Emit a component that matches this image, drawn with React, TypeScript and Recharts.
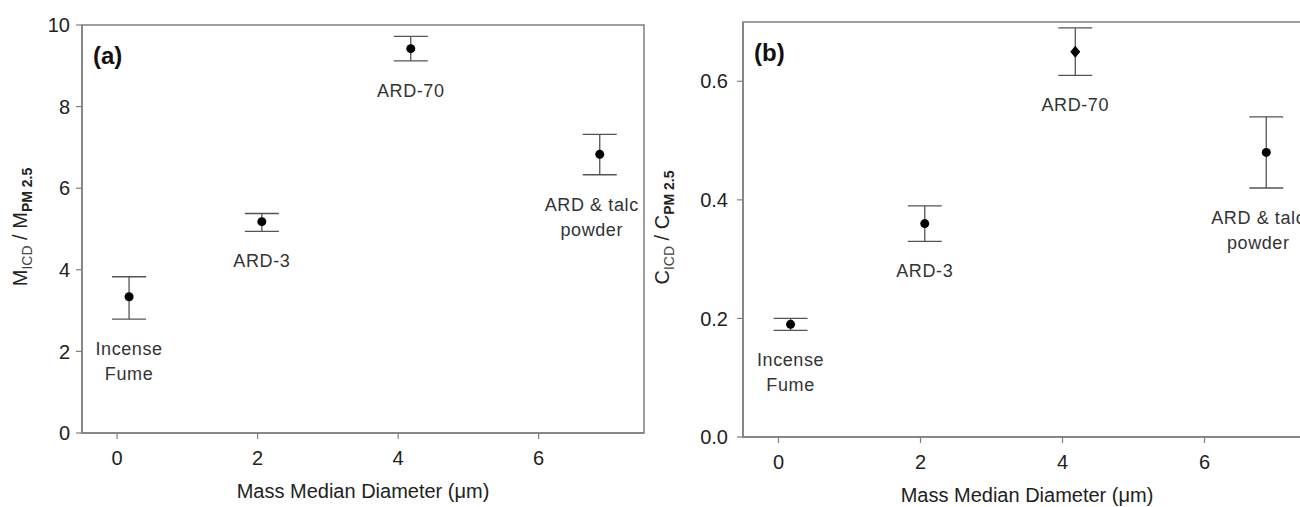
import { ScatterChart, Scatter, XAxis, YAxis, ErrorBar, ReferenceArea } from 'recharts';

const FONT = '"Liberation Sans", Arial, sans-serif';
const AXIS = '#7f7f7f';

// shared categories / x positions (mass median diameter, um)
const categories = ['Incense Fume', 'ARD-3', 'ARD-70', 'ARD & talc powder'];
const labelLines = [['Incense', 'Fume'], ['ARD-3'], ['ARD-70'], ['ARD & talc', 'powder']];
const diameters = [0.17, 2.06, 4.18, 6.87];

// panel (a): M_ICD / M_PM2.5
const massRatio = [3.34, 5.18, 9.42, 6.83];
const massErrLow = [0.55, 0.24, 0.3, 0.5];
const massErrHigh = [0.49, 0.2, 0.3, 0.49];

// panel (b): C_ICD / C_PM2.5
const countRatio = [0.19, 0.36, 0.65, 0.48];
const countErrLow = [0.01, 0.03, 0.04, 0.06];
const countErrHigh = [0.01, 0.03, 0.04, 0.06];

const xTicks = [0, 2, 4, 6];
const massTicks = [0, 2, 4, 6, 8, 10];
const countTicks = [0, 0.2, 0.4, 0.6];

const buildRows = (vals: number[], lo: number[], hi: number[]) =>
    categories.map((name, i) => ({ name, x: diameters[i], y: vals[i], err: [lo[i], hi[i]] }));

const buildLabels = (vals: number[], lo: number[]) =>
    categories.map((name, i) => ({ name, x: diameters[i], y: vals[i] - lo[i], lines: labelLines[i] }));

const makeMarker = (diamondName?: string) => (props: any) => {
    const { cx, cy, payload } = props;
    if (payload.name === diamondName) {
        return <path d={`M${cx},${cy - 6}L${cx + 5},${cy}L${cx},${cy + 6}L${cx - 5},${cy}Z`} fill="#000" />;
    }
    return <circle cx={cx} cy={cy} r={4.5} fill="#000" />;
};

const PointLabel = (props: any) => {
    const { cy, payload } = props;
    // the last label sits a little left of its point, as in the original
    const cx = props.cx - (payload.name === 'ARD & talc powder' ? 8 : 0);
    return (
        <text x={cx} y={cy + 36} textAnchor="middle" fontSize={18} letterSpacing={0.6} fill="#333" fontFamily={FONT}>
            {payload.lines.map((l: string, i: number) => (
                <tspan key={i} x={cx} dy={i === 0 ? 0 : 25}>
                    {l}
                </tspan>
            ))}
        </text>
    );
};

const XTitle = ({ viewBox }: any) => (
    <text x={viewBox.x + viewBox.width / 2} y={viewBox.y + 65} textAnchor="middle" fontSize={20} fill="#222" fontFamily={FONT}>
        Mass Median Diameter (μm)
    </text>
);

const YTitle = ({ viewBox, letter, dx }: any) => {
    const x = viewBox.x + dx;
    const y = viewBox.y + viewBox.height / 2 - 2;
    return (
        <text transform={`translate(${x},${y}) rotate(-90)`} textAnchor="middle" fontSize={20} fill="#222" fontFamily={FONT}>
            {letter}
            <tspan fontSize={14} dy={5} fill="#444">ICD</tspan>
            <tspan dy={-5}> / {letter}</tspan>
            <tspan fontSize={14} dy={5} fontWeight="bold">PM 2.5</tspan>
        </text>
    );
};

const PanelTag = ({ viewBox, text }: any) => (
    <text x={viewBox.x + 11} y={viewBox.y + 39} fontSize={24} fontWeight="bold" fill="#111" fontFamily={FONT}>
        {text}
    </text>
);

type PanelProps = {
    left: number;
    tag: string;
    letter: string;
    rows: any[];
    labels: any[];
    yMax: number;
    yTicks: number[];
    yFmt: (v: number) => string;
    top: number;
    xHeight: number;
    yWidth: number;
    right: number;
    tickGap: number;
    titleDx: number;
    diamond?: string;
};

function Panel(p: PanelProps) {
    return (
        <div style={{ position: 'absolute', left: p.left, top: 0 }}>
            <ScatterChart width={700} height={507} margin={{ top: p.top, right: p.right, bottom: 0, left: 0 }}>
                <ReferenceArea
                    x1={-0.5}
                    x2={7.5}
                    y1={0}
                    y2={p.yMax}
                    fill="none"
                    stroke={AXIS}
                    strokeWidth={1.5}
                    label={{ content: (lp: any) => <PanelTag viewBox={lp.viewBox} text={p.tag} /> }}
                />
                <XAxis
                    type="number"
                    dataKey="x"
                    domain={[-0.5, 7.5]}
                    ticks={xTicks}
                    allowDataOverflow
                    height={p.xHeight}
                    tickSize={6}
                    tickMargin={12}
                    axisLine={{ stroke: AXIS, strokeWidth: 1.5 }}
                    tickLine={{ stroke: AXIS, strokeWidth: 1.2 }}
                    tick={{ fill: '#222', fontSize: 20, fontFamily: FONT }}
                    label={{ content: (lp: any) => <XTitle viewBox={lp.viewBox} /> }}
                />
                <YAxis
                    type="number"
                    dataKey="y"
                    domain={[0, p.yMax]}
                    ticks={p.yTicks}
                    tickFormatter={p.yFmt}
                    allowDataOverflow
                    width={p.yWidth}
                    tickSize={6}
                    tickMargin={p.tickGap}
                    axisLine={{ stroke: AXIS, strokeWidth: 1.5 }}
                    tickLine={{ stroke: AXIS, strokeWidth: 1.2 }}
                    tick={{ fill: '#222', fontSize: 20, fontFamily: FONT }}
                    label={{ content: (lp: any) => <YTitle viewBox={lp.viewBox} letter={p.letter} dx={p.titleDx} /> }}
                />
                <Scatter data={p.rows} shape={makeMarker(p.diamond)} isAnimationActive={false}>
                    <ErrorBar dataKey="err" direction="y" width={17} stroke="#555" strokeWidth={1.3} isAnimationActive={false} />
                </Scatter>
                <Scatter data={p.labels} shape={PointLabel} isAnimationActive={false} />
            </ScatterChart>
        </div>
    );
}

export default function App() {
    return (
        <div style={{ position: 'absolute', left: 0, top: 0, width: 1300, height: 507, overflow: 'hidden', background: '#fff' }}>
            <Panel
                left={0}
                tag="(a)"
                letter="M"
                rows={buildRows(massRatio, massErrLow, massErrHigh)}
                labels={buildLabels(massRatio, massErrLow)}
                yMax={10}
                yTicks={massTicks}
                yFmt={(v) => String(v)}
                top={25}
                xHeight={74}
                yWidth={82}
                right={56}
                tickGap={6}
                titleDx={27}
            />
            <Panel
                left={650}
                tag="(b)"
                letter="C"
                rows={buildRows(countRatio, countErrLow, countErrHigh)}
                labels={buildLabels(countRatio, countErrLow)}
                yMax={0.7}
                yTicks={countTicks}
                yFmt={(v) => v.toFixed(1)}
                top={22}
                xHeight={70}
                yWidth={93}
                right={39}
                tickGap={9}
                titleDx={19}
                diamond="ARD-70"
            />
        </div>
    );
}
